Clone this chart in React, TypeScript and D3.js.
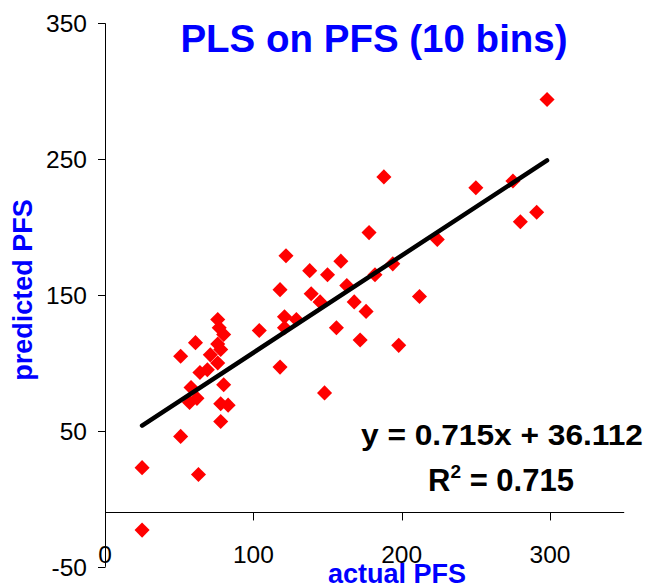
import React from "react";
import * as d3 from "d3";

const actualPFS = [298, 275, 250, 188, 291, 280, 224, 178, 194, 182, 159, 138, 150, 163, 122, 118, 139, 145, 212, 168, 176, 121, 129, 121, 156, 172, 198, 104, 118, 148, 76, 77, 80, 61, 51, 76, 78, 71, 76, 64, 58, 80, 62, 57, 78, 83, 78, 51, 25, 63, 25, 69];
const predictedPFS = [294, 234, 229, 237, 211, 204, 191, 196, 173, 165, 175, 168, 165, 157, 179, 154, 151, 145, 149, 145, 138, 134, 132, 126, 126, 117, 113, 124, 97, 78, 132, 126, 121, 115, 105, 114, 110, 106, 100, 93, 82, 84, 74, 71, 70, 69, 57, 46, 23, 18, -23, 95];
const slope = 0.715;
const intercept = 36.112;
const yTicks = [-50, 50, 150, 250, 350];
const xTicks = [0, 100, 200, 300];
const xAxisCross = -10;

const W = 648;
const H = 585;
const FONT = "'Liberation Sans', Arial, Helvetica, sans-serif";

export default function App() {
  const x = d3.scaleLinear().domain([0, 350]).range([105, 624.2]);
  const y = d3.scaleLinear().domain([-50, 350]).range([566.8, 23.4]);
  const pts = actualPFS.map((v, i) => [v, predictedPFS[i]] as [number, number]);
  const [xmin, xmax] = d3.extent(actualPFS) as [number, number];
  const line = d3
    .line<number>()
    .x((d) => x(d))
    .y((d) => y(slope * d + intercept));
  const diamond = d3.symbol().type(d3.symbolDiamond2).size(145)();
  const x0 = x(0);
  const yAx = y(xAxisCross);

  return (
    <svg width={W} height={H} style={{ position: "absolute", left: 0, top: 0, background: "#fff" }} fontFamily={FONT}>
      <rect width={W} height={H} fill="#fff" />
      {/* y axis */}
      <line x1={x0 + 0.5} x2={x0 + 0.5} y1={y(350)} y2={y(-50)} stroke="#000" strokeWidth={1} />
      {yTicks.map((t) => (
        <g key={"y" + t}>
          <line x1={x0 - 7} x2={x0 + 0.5} y1={Math.round(y(t)) + 0.5} y2={Math.round(y(t)) + 0.5} stroke="#000" />
          <text x={87} y={y(t) + 8.8} textAnchor="end" fontSize={24.5} fill="#000">
            {t}
          </text>
        </g>
      ))}
      {/* x axis */}
      <line x1={x0} x2={x(350)} y1={Math.round(yAx) + 0.5} y2={Math.round(yAx) + 0.5} stroke="#000" />
      {xTicks.map((t) => (
        <g key={"x" + t}>
          {t !== 0 && (
            <line x1={Math.round(x(t)) + 0.5} x2={Math.round(x(t)) + 0.5} y1={yAx} y2={yAx + 8} stroke="#000" />
          )}
          <text x={x(t)} y={563} textAnchor="middle" fontSize={24.5} fill="#000">
            {t}
          </text>
        </g>
      ))}
      {/* points */}
      {pts.map((p, i) => (
        <path key={i} d={diamond as string} transform={`translate(${x(p[0])},${y(p[1])})`} fill="#ff0000" />
      ))}
      {/* trendline */}
      <path d={line([xmin, xmax]) as string} stroke="#000" strokeWidth={4.5} fill="none" strokeLinecap="round" />
      {/* title */}
      <text x={374} y={52} textAnchor="middle" fontSize={38.5} fontWeight="bold" fill="#0000ff">
        PLS on PFS (10 bins)
      </text>
      {/* axis titles */}
      <text x={397} y={583} textAnchor="middle" fontSize={27} fontWeight="bold" fill="#0000ff">
        actual PFS
      </text>
      <text transform="translate(32,290) rotate(-90)" textAnchor="middle" fontSize={27} fontWeight="bold" fill="#0000ff">
        predicted PFS
      </text>
      {/* equation */}
      <text x={502} y={445} textAnchor="middle" fontSize={30} fontWeight="bold" fill="#000" textLength={282} lengthAdjust="spacingAndGlyphs">
        y = 0.715x + 36.112
      </text>
      <text x={501} y={491} textAnchor="middle" fontSize={31} fontWeight="bold" fill="#000">
        R<tspan fontSize={19} dy={-13}>2</tspan>
        <tspan dy={13}> = 0.715</tspan>
      </text>
    </svg>
  );
}
